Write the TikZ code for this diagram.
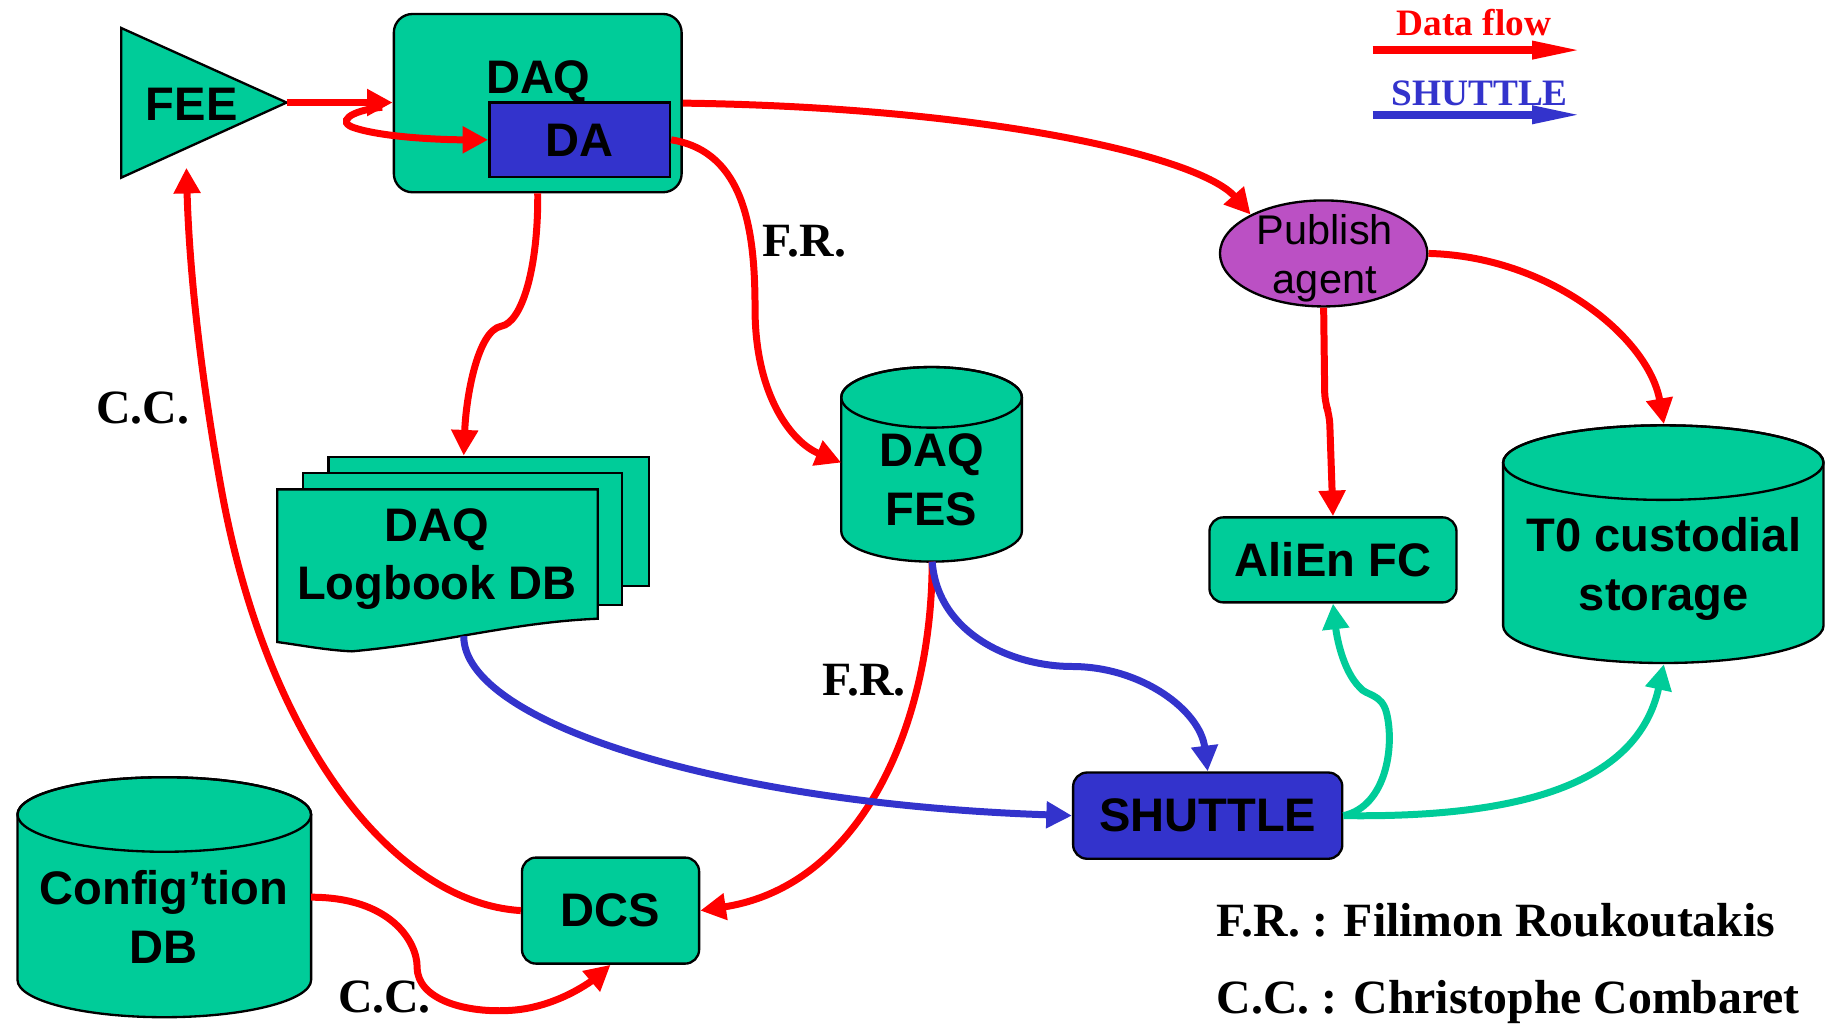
\documentclass[tikz,border=0pt]{standalone}
\usepackage{fontspec}
\setmainfont{Liberation Serif}
\newfontfamily\arialf{Liberation Sans}
\usetikzlibrary{arrows.meta,shapes.geometric}
\definecolor{tealc}{RGB}{0,204,153}
\definecolor{blueb}{RGB}{51,51,204}
\definecolor{purp}{RGB}{187,80,196}
\definecolor{redf}{RGB}{255,0,0}
\newcommand\drawcyl[5]{%
  \pgfmathsetmacro\cylcx{(#1+#2)/2}%
  \pgfmathsetmacro\cylrx{(#2-#1)/2}%
  \filldraw[outl,fill=tealc] (#1,#3) -- (#1,#4)
     arc[start angle=180,end angle=0,x radius=\cylrx,y radius=#5]
     -- (#2,#3) arc[start angle=0,end angle=-180,x radius=\cylrx,y radius=#5] -- cycle;
  \draw[outl] (\cylcx,#3) ellipse[x radius=\cylrx,y radius=#5];
}
\begin{document}
\begin{tikzpicture}[x=0.5pt,y=-0.5pt,
  outl/.style={draw=black,line width=1pt},
  gbox/.style={outl,fill=tealc,rounded corners=6pt,inner sep=0pt,font=\arialf\bfseries\fontsize{20.2}{25}\selectfont},
  lbl/.style={inner sep=0pt,align=center,font=\arialf\bfseries\fontsize{20.2}{25}\selectfont},
  tlbl/.style={inner sep=0pt,font=\bfseries\fontsize{20.5}{24}\selectfont},
  flow/.style={line width=3pt,-{Triangle[length=11pt,width=11pt]}},
  dflow/.style={flow,draw=redf},
  sflow/.style={flow,draw=blueb},
  gflow/.style={flow,draw=tealc},
]
\useasboundingbox (0,0) rectangle (1568,879);

% ---------- shapes ----------
% FEE triangle
\filldraw[outl,fill=tealc] (104,24) -- (246,88) -- (104,152.5) -- cycle;
\node[lbl] (fee) at (164.5,89.5) {FEE};
\coordinate (feetip) at (246,88);
\coordinate (feebot) at (160,144);

% DAQ box with DA
\node[gbox,rounded corners=8pt,minimum width=123.5pt,minimum height=76.5pt] (daq) at (461.5,88.5) {};
\node[lbl,anchor=base] (daqt) at (462,80) {DAQ};
\node[outl,fill=blueb,inner sep=0pt,minimum width=77.5pt,minimum height=32pt,
      font=\arialf\bfseries\fontsize{20.2}{25}\selectfont] (da) at (497.5,120) {DA};

% Logbook (stacked documents)
\filldraw[outl,fill=tealc] (282,392) rectangle (557,503);
\filldraw[outl,fill=tealc] (260,406) rectangle (534,519);
\filldraw[outl,fill=tealc] (238,420) -- (513,420) -- (513,531)
   .. controls (440,534) and (380,552) .. (302,559)
   .. controls (280,558) and (260,554) .. (238,551) -- cycle;
\node[lbl,anchor=north] (logbook) at (375,436) {DAQ\\Logbook DB};
\coordinate (lbtop) at (398,391);
\coordinate (lbbot) at (398,546);

% DAQ FES cylinder
\drawcyl{722}{877}{341}{456}{26}
\node[lbl,anchor=north] (fes) at (799.5,372) {DAQ\\FES};
\coordinate (fesleft) at (722,397);
\coordinate (fesbot) at (800,482);

% Publish agent
\node[outl,fill=purp,ellipse,inner sep=0pt,minimum width=89pt,minimum height=45.5pt] (pub) at (1136,217.5) {};
\node[inner sep=0pt,align=center,anchor=north,font=\arialf\fontsize{17.8}{21}\selectfont] (pubt) at (1137,184) {Publish\\agent};

% AliEn FC
\node[gbox,minimum width=106pt,minimum height=36.5pt] (alien) at (1144,480.5) {AliEn FC};

% T0 custodial storage
\drawcyl{1290}{1565}{397}{537}{32}
\node[lbl,anchor=north] (t0) at (1428,444) {T0 custodial\\storage};
\coordinate (t0top) at (1428,364);
\coordinate (t0bot) at (1428,570);

% SHUTTLE
\node[gbox,fill=blueb,minimum width=115.5pt,minimum height=37pt] (shuttle) at (1036.5,700) {SHUTTLE};

% DCS
\node[gbox,minimum width=76pt,minimum height=45.5pt] (dcs) at (524,781.5) {DCS};

% Config DB
\drawcyl{15}{267}{699}{841}{32}
\node[lbl,anchor=north] (cfg) at (140.5,747) {Config’tion\\DB};
\coordinate (cfgright) at (267,770);

% ---------- connectors ----------
\draw[dflow] (feetip) -- (daq.west |- feetip);
\coordinate (loopst) at (328,92);
\draw[dflow] (loopst) .. controls (300,95) and (288,105) .. (305,110)
   .. controls (330,118) and (380,120) .. (da.west);
\draw[dflow] (daq.east) .. controls (850,92) and (1030,135) .. (pub.152);
\draw[dflow] (da.east) .. controls (640,130) and (648,200) .. (648,265)
   .. controls (648,340) and (680,380) .. (fesleft);
\draw[dflow] (daq.south) .. controls (462,230) and (448,277) .. (430,280)
   .. controls (410,284) and (400,340) .. (lbtop);
\draw[dflow,rounded corners=4pt] (pub.south) -- (1137,345) -- (1141,356) -- (alien.north);
\draw[dflow] (pub.east) .. controls (1330,220) and (1415,290) .. (t0top);
\draw[dflow] (fesbot) .. controls (800,620) and (740,760) .. (dcs.east);
\draw[dflow] (dcs.west) .. controls (340,775) and (230,640) .. (190,420)
   .. controls (170,310) and (162,220) .. (feebot);
\draw[dflow] (cfgright) .. controls (335,770) and (358,808) .. (358,830)
   .. controls (358,858) and (400,870) .. (440,867)
   .. controls (480,864) and (510,840) .. (dcs.south);

\draw[sflow] (fesbot) .. controls (805,545) and (870,572) .. (920,572)
   .. controls (980,572) and (1030,610) .. (shuttle.north);
\draw[sflow] (lbbot) .. controls (398,620) and (620,690) .. (shuttle.west);

\draw[gflow] (shuttle.east) .. controls (1190,692) and (1197,640) .. (1190,612)
   .. controls (1186,595) and (1172,597) .. (1167,590)
   .. controls (1152,575) and (1147,545) .. (alien.south);
\draw[gflow] (shuttle.east) .. controls (1300,702) and (1405,675) .. (t0bot);

% ---------- labels ----------
\node[tlbl] (fr1) at (690.5,207) {F.R.};
\node[tlbl] (fr2) at (741.5,584) {F.R.};
\node[tlbl] (cc1) at (122.5,350) {C.C.};
\node[tlbl] (cc2) at (330,856) {C.C.};
\node[tlbl,anchor=base west] (frname) at (1044,804) {F.R. : Filimon Roukoutakis};
\node[tlbl,anchor=base west] (ccname) at (1044,869.5) {C.C. : Christophe Combaret};

% ---------- legend ----------
\node[inner sep=0pt,text=redf,font=\bfseries\fontsize{16}{18}\selectfont] (leg1) at (1265,19.5) {Data flow};
\coordinate (l1a) at (1178,43);
\coordinate (l1b) at (1359,43);
\draw[draw=redf,line width=3.5pt,-{Triangle[length=22pt,width=7pt]}] (l1a) -- (l1b);
\node[inner sep=0pt,text=blueb,font=\bfseries\fontsize{16}{18}\selectfont] (leg2) at (1270,80) {SHUTTLE};
\coordinate (l2a) at (1178,98.5);
\coordinate (l2b) at (1359,98.5);
\draw[draw=blueb,line width=3.5pt,-{Triangle[length=22pt,width=7pt]}] (l2a) -- (l2b);
\end{tikzpicture}
\end{document}
